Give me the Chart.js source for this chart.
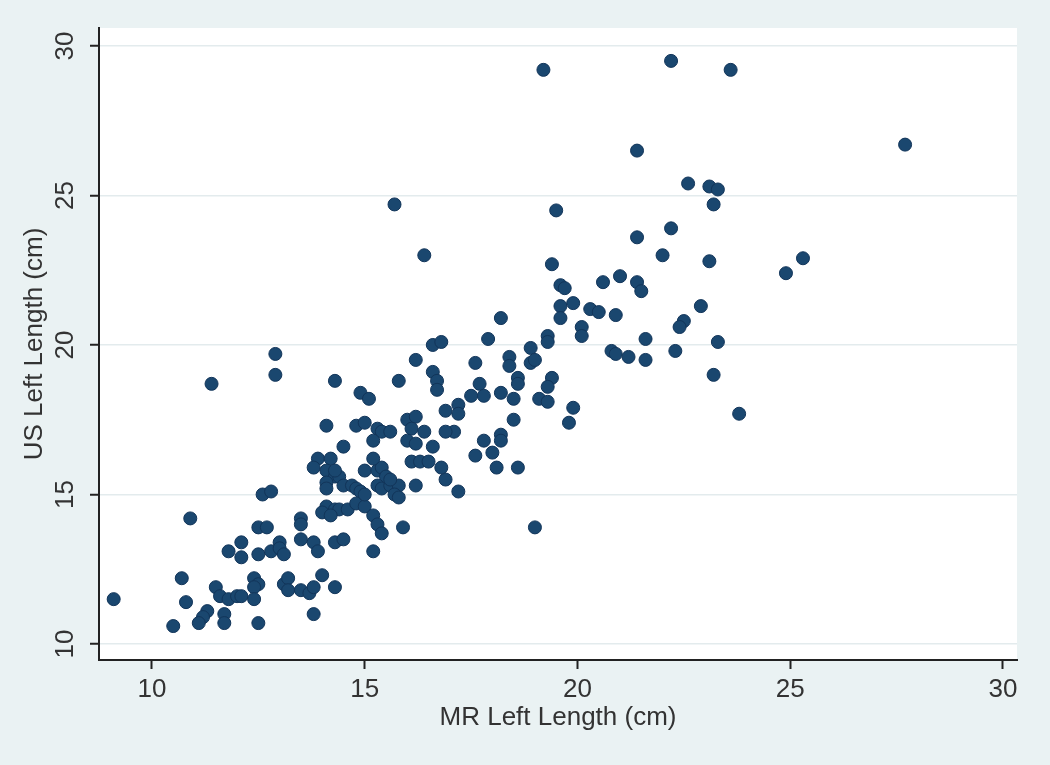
<!DOCTYPE html>
<html>
<head>
<meta charset="utf-8">
<script src="https://cdn.jsdelivr.net/npm/chart.js@4"></script>
<style>
  html, body { margin: 0; padding: 0; background: #eaf2f3; }
  #wrap { width: 1050px; height: 765px; }
</style>
</head>
<body>
<div id="wrap"><canvas id="scatter" width="1050" height="765"></canvas></div>
<script>
// MR vs US left length (cm)
const mrLeft = [
    19.2, 22.2, 23.6, 27.7, 21.4, 15.7, 19.5, 22.6, 23.1, 23.3,
    23.2, 21.4, 22.2, 16.4, 19.4, 22.0, 23.1, 24.9, 25.3, 19.6,
    19.7, 20.6, 21.0, 21.4, 21.5, 19.6, 19.6, 19.9, 20.3, 20.5,
    20.9, 18.2, 20.1, 20.1, 17.9, 19.3, 19.3, 18.9, 18.9, 19.0,
    18.4, 18.4, 17.6, 20.8, 20.9, 21.2, 21.6, 21.6, 22.3, 22.5,
    22.4, 22.9, 23.3, 23.2, 23.8, 18.6, 18.6, 19.4, 19.3, 17.7,
    17.8, 17.5, 18.2, 18.5, 19.1, 19.3, 19.9, 19.8, 18.5, 17.2,
    17.2, 17.1, 18.2, 18.2, 17.8, 17.6, 18.0, 18.1, 18.6, 17.2,
    16.9, 19.0,
    12.9, 12.9, 11.4, 14.3, 15.8, 14.9, 15.1, 16.6, 16.8, 16.2,
    16.6, 16.7, 16.7, 14.1, 14.8, 15.0, 15.3, 15.4, 15.6, 15.2,
    16.0, 16.2, 16.1, 16.4, 16.9, 16.9, 16.0, 16.2, 16.6, 14.5,
    13.9, 14.2, 13.8, 14.1, 14.3, 14.4, 14.5, 14.1, 14.1, 14.7,
    14.8, 14.9, 15.0, 15.3, 15.4, 15.5, 15.2, 15.3, 15.4, 15.6,
    15.8, 15.6, 15.7, 15.8, 16.1, 16.3, 16.5, 16.8, 16.2, 12.6,
    12.8, 14.1, 14.3, 14.4, 14.6, 14.0, 14.2, 14.8, 15.0, 15.0,
    14.3, 15.2, 15.3, 15.4, 15.2, 15.9, 13.5, 13.5, 12.5, 12.7,
    13.5, 13.8, 13.9, 14.3, 14.5, 13.0, 12.1, 11.8, 12.1, 12.5,
    12.8, 13.0, 13.1, 10.7, 10.9, 11.5, 11.6, 11.8, 12.0, 12.1,
    12.4, 12.5, 12.4, 12.4, 13.1, 13.2, 13.2, 13.5, 13.7, 13.8,
    14.0, 14.3, 9.1, 10.8, 10.5, 11.3, 11.2, 11.1, 11.7, 11.7,
    12.5, 13.8
];
const usLeft = [
    29.2, 29.5, 29.2, 26.7, 26.5, 24.7, 24.5, 25.4, 25.3, 25.2,
    24.7, 23.6, 23.9, 23.0, 22.7, 23.0, 22.8, 22.4, 22.9, 22.0,
    21.9, 22.1, 22.3, 22.1, 21.8, 21.3, 20.9, 21.4, 21.2, 21.1,
    21.0, 20.9, 20.6, 20.3, 20.2, 20.3, 20.1, 19.9, 19.4, 19.5,
    19.6, 19.3, 19.4, 19.8, 19.7, 19.6, 20.2, 19.5, 19.8, 20.8,
    20.6, 21.3, 20.1, 19.0, 17.7, 18.9, 18.7, 18.9, 18.6, 18.7,
    18.3, 18.3, 18.4, 18.2, 18.2, 18.1, 17.9, 17.4, 17.5, 18.0,
    17.7, 17.1, 17.0, 16.8, 16.8, 16.3, 16.4, 15.9, 15.9, 15.1,
    15.5, 13.9,
    19.7, 19.0, 18.7, 18.8, 18.8, 18.4, 18.2, 20.0, 20.1, 19.5,
    19.1, 18.8, 18.5, 17.3, 17.3, 17.4, 17.2, 17.1, 17.1, 16.8,
    17.5, 17.6, 17.2, 17.1, 17.1, 17.8, 16.8, 16.7, 16.6, 16.6,
    16.2, 16.2, 15.9, 15.8, 15.6, 15.6, 15.3, 15.4, 15.2, 15.3,
    15.2, 15.1, 15.8, 15.8, 15.9, 15.6, 16.2, 15.3, 15.2, 15.3,
    15.3, 15.5, 15.0, 14.9, 16.1, 16.1, 16.1, 15.9, 15.3, 15.0,
    15.1, 14.6, 14.5, 14.5, 14.5, 14.4, 14.3, 14.7, 14.6, 15.0,
    15.8, 14.3, 14.0, 13.7, 13.1, 13.9, 14.2, 14.0, 13.9, 13.9,
    13.5, 13.4, 13.1, 13.4, 13.5, 13.4, 13.4, 13.1, 12.9, 13.0,
    13.1, 13.2, 13.0, 12.2, 14.2, 11.9, 11.6, 11.5, 11.6, 11.6,
    12.2, 12.0, 11.9, 11.5, 12.0, 12.2, 11.8, 11.8, 11.7, 11.9,
    12.3, 11.9, 11.5, 11.4, 10.6, 11.1, 10.9, 10.7, 11.0, 10.7,
    10.7, 11.0
];
const xTicks = [10, 15, 20, 25, 30];
const yTicks = [10, 15, 20, 25, 30];

const points = mrLeft.map((x, i) => ({ x: x, y: usLeft[i] }));

const tickFont = { family: '"Liberation Sans", Arial, sans-serif', size: 26 };
const inkColor = '#333333';

// white plot region on the bluish graph region, like Stata s2color
const plotRegion = {
    id: 'plotRegion',
    beforeDraw(chart) {
        const { ctx, chartArea } = chart;
        ctx.save();
        ctx.fillStyle = '#ffffff';
        ctx.fillRect(chartArea.left, chartArea.top, chartArea.right - chartArea.left, chartArea.bottom - chartArea.top);
        ctx.restore();
    }
};

new Chart(document.getElementById('scatter'), {
    type: 'scatter',
    data: {
        datasets: [{
            label: 'US Left Length (cm)',
            data: points,
            pointRadius: 6.5,
            pointHoverRadius: 6.5,
            backgroundColor: '#1a476f',
            borderColor: '#12355a',
            borderWidth: 1
        }]
    },
    options: {
        responsive: false,
        animation: false,
        layout: {
            padding: { left: 0, top: 28, right: 33, bottom: 0 }
        },
        plugins: {
            legend: { display: false },
            tooltip: { enabled: false }
        },
        scales: {
            x: {
                type: 'linear',
                min: 8.755,
                max: 30.33,
                afterBuildTicks: (scale) => { scale.ticks = xTicks.map(v => ({ value: v })); },
                afterFit: (scale) => { scale.height = 105; },
                ticks: {
                    includeBounds: false,
                    color: inkColor,
                    font: tickFont,
                    padding: 5,
                    maxRotation: 0
                },
                grid: {
                    drawOnChartArea: false,
                    drawTicks: true,
                    tickLength: 9,
                    tickWidth: 2,
                    tickColor: '#222222'
                },
                border: { display: true, color: '#222222', width: 2 },
                title: {
                    display: true,
                    text: 'MR Left Length (cm)',
                    color: inkColor,
                    font: tickFont,
                    padding: { top: 0, bottom: 32 }
                }
            },
            y: {
                type: 'linear',
                min: 9.465,
                max: 30.6,
                afterBuildTicks: (scale) => { scale.ticks = yTicks.map(v => ({ value: v })); },
                afterFit: (scale) => { scale.width = 99; },
                ticks: {
                    includeBounds: false,
                    color: inkColor,
                    font: tickFont,
                    padding: 10,
                    minRotation: 90,
                    maxRotation: 90,
                    crossAlign: 'center'
                },
                grid: {
                    color: '#e3ebed',
                    lineWidth: 1.5,
                    drawTicks: true,
                    tickLength: 9,
                    tickWidth: 2,
                    tickColor: '#222222'
                },
                border: { display: true, color: '#222222', width: 2 },
                title: {
                    display: true,
                    text: 'US Left Length (cm)',
                    color: inkColor,
                    font: tickFont,
                    padding: { top: 19, bottom: 0 }
                }
            }
        }
    },
    plugins: [plotRegion]
});
</script>
</body>
</html>
